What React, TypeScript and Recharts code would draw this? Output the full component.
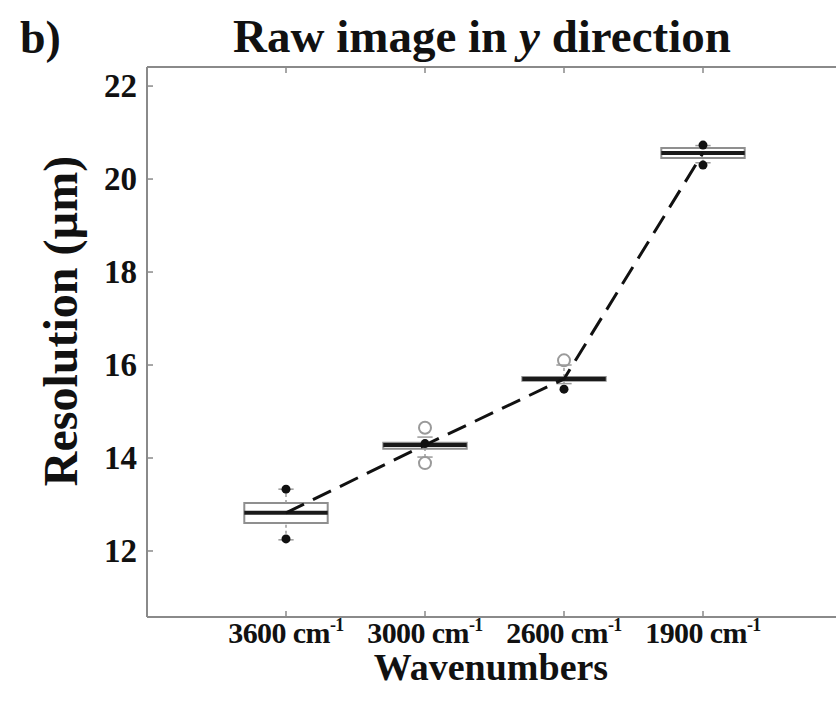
import React from 'react';
import {
  ComposedChart,
  XAxis,
  YAxis,
  Line,
  Scatter,
  ReferenceArea,
  ReferenceLine,
} from 'recharts';

const categories = ['3600', '3000', '2600', '1900'];
const medians = [12.82, 14.28, 15.7, 20.56];
const boxLow = [12.6, 14.2, 15.66, 20.45];
const boxHigh = [13.03, 14.33, 15.74, 20.67];
const whiskerLow = [12.24, 14.02, 15.6, 20.35];
const whiskerHigh = [13.33, 14.45, 16.0, 20.72];
const filledMarks = [[13.33, 12.26], [14.31], [15.48], [20.73, 20.3]];
const openMarks: number[][] = [[], [14.65, 13.89], [16.1], []];
const yTicks = [12, 14, 16, 18, 20, 22];

const FONT = '"Liberation Serif", "Times New Roman", serif';
const AXIS = '#8a8a8a';
const Y_MIN = 10.58;
const Y_MAX = 22.41;
const HALF_BOX = 0.3;
const HALF_CAP = 0.055;
const TICK_GAP = 10;

const positions = categories.map((_, i) => i + 1);
const medianPoints = positions.map((x, i) => ({ x, y: medians[i] }));
const filledPoints = filledMarks.flatMap((vals, i) => vals.map((y) => ({ x: positions[i], y })));
const openPoints = openMarks.flatMap((vals, i) => vals.map((y) => ({ x: positions[i], y })));

const boldText = {
  fontFamily: FONT,
  fontWeight: 'bold' as const,
  fill: '#111',
};

const BottomTick = ({ x, y, payload }: any) => {
  const i = positions.indexOf(payload.value);
  const axisY = y - TICK_GAP;
  return (
    <g>
      <line x1={x} x2={x} y1={axisY} y2={axisY - 6} stroke={AXIS} strokeWidth={1.5} />
      <text x={x} y={axisY + 26} textAnchor="middle" fontSize={30} letterSpacing={-0.6} {...boldText}>
        {categories[i]} cm
        <tspan fontSize={18} dy={-12}>-1</tspan>
      </text>
    </g>
  );
};

const LeftTick = ({ x, y, payload }: any) => {
  const axisX = x + TICK_GAP;
  return (
    <g>
      <line x1={axisX} x2={axisX + 6} y1={y} y2={y} stroke={AXIS} strokeWidth={1.5} />
      <text x={x} y={y + 11} textAnchor="end" fontSize={33} {...boldText}>
        {payload.value}
      </text>
    </g>
  );
};

const grayLine = { stroke: '#9a9a9a', strokeWidth: 1.5 };

export default function App() {
  return (
    <div
      style={{
        position: 'absolute',
        left: 0,
        top: 0,
        width: 836,
        height: 701,
        overflow: 'hidden',
        background: '#fff',
      }}
    >
      <ComposedChart width={850} height={701} margin={{ top: 67, right: 8, bottom: 0, left: 0 }}>
        <XAxis
          dataKey="x"
          type="number"
          domain={[0, 5]}
          ticks={positions}
          height={84}
          tickSize={0}
          tickMargin={TICK_GAP}
          axisLine={{ stroke: AXIS, strokeWidth: 2 }}
          tick={<BottomTick />}
          interval={0}
          label={{
            content: ({ viewBox }: any) => (
              <text x={491} y={viewBox.y + 63} textAnchor="middle" fontSize={38} {...boldText}>
                Wavenumbers
              </text>
            ),
          }}
        />
        <YAxis
          type="number"
          domain={[Y_MIN, Y_MAX]}
          ticks={yTicks}
          width={147}
          tickSize={0}
          tickMargin={TICK_GAP}
          axisLine={{ stroke: AXIS, strokeWidth: 2 }}
          tick={<LeftTick />}
          interval={0}
          allowDataOverflow
          label={{
            content: () => (
              <text
                x={0}
                y={0}
                transform="translate(77, 321) rotate(-90)"
                textAnchor="middle"
                fontSize={48}
                {...boldText}
              >
                Resolution (µm)
              </text>
            ),
          }}
        />

        {/* top frame edge with inward ticks */}
        <ReferenceLine y={Y_MAX} stroke={AXIS} strokeWidth={2} />
        {positions.map((x) => (
          <ReferenceLine
            key={`tt-${x}`}
            segment={[
              { x, y: Y_MAX },
              { x, y: Y_MAX - 0.13 },
            ]}
            stroke={AXIS}
            strokeWidth={1.5}
          />
        ))}

        {positions.map((x, i) => (
          <ReferenceLine
            key={`wl-${i}`}
            segment={[
              { x, y: whiskerLow[i] },
              { x, y: boxLow[i] },
            ]}
            {...grayLine}
            strokeDasharray="3 3"
          />
        ))}
        {positions.map((x, i) => (
          <ReferenceLine
            key={`wh-${i}`}
            segment={[
              { x, y: boxHigh[i] },
              { x, y: whiskerHigh[i] },
            ]}
            {...grayLine}
            strokeDasharray="3 3"
          />
        ))}
        {positions.map((x, i) => (
          <ReferenceLine
            key={`cl-${i}`}
            segment={[
              { x: x - HALF_CAP, y: whiskerLow[i] },
              { x: x + HALF_CAP, y: whiskerLow[i] },
            ]}
            {...grayLine}
          />
        ))}
        {positions.map((x, i) => (
          <ReferenceLine
            key={`ch-${i}`}
            segment={[
              { x: x - HALF_CAP, y: whiskerHigh[i] },
              { x: x + HALF_CAP, y: whiskerHigh[i] },
            ]}
            {...grayLine}
          />
        ))}
        {positions.map((x, i) => (
          <ReferenceArea
            key={`box-${i}`}
            x1={x - HALF_BOX}
            x2={x + HALF_BOX}
            y1={boxLow[i]}
            y2={boxHigh[i]}
            fill="#fff"
            fillOpacity={1}
            stroke="#8f8f8f"
            strokeWidth={2}
          />
        ))}
        {positions.map((x, i) => (
          <ReferenceLine
            key={`med-${i}`}
            segment={[
              { x: x - HALF_BOX, y: medians[i] },
              { x: x + HALF_BOX, y: medians[i] },
            ]}
            stroke="#1a1a1a"
            strokeWidth={4}
          />
        ))}

        <Scatter
          data={openPoints}
          dataKey="y"
          isAnimationActive={false}
          shape={(p: any) => (
            <circle cx={p.cx} cy={p.cy} r={6} fill="none" stroke="#9a9a9a" strokeWidth={2} />
          )}
        />
        <Scatter
          data={filledPoints}
          dataKey="y"
          isAnimationActive={false}
          shape={(p: any) => <circle cx={p.cx} cy={p.cy} r={4.5} fill="#111" />}
        />
        <Line
          data={medianPoints}
          dataKey="y"
          type="linear"
          stroke="#111"
          strokeWidth={3}
          strokeDasharray="20 10"
          dot={false}
          activeDot={false}
          isAnimationActive={false}
        />
      </ComposedChart>

      <svg
        width={836}
        height={70}
        style={{ position: 'absolute', left: 0, top: 0, pointerEvents: 'none' }}
      >
        <text x={20} y={53} fontSize={46} {...boldText}>
          b)
        </text>
        <text x={482} y={52} textAnchor="middle" fontSize={47} {...boldText}>
          Raw image in <tspan fontStyle="italic">y</tspan> direction
        </text>
      </svg>
    </div>
  );
}
